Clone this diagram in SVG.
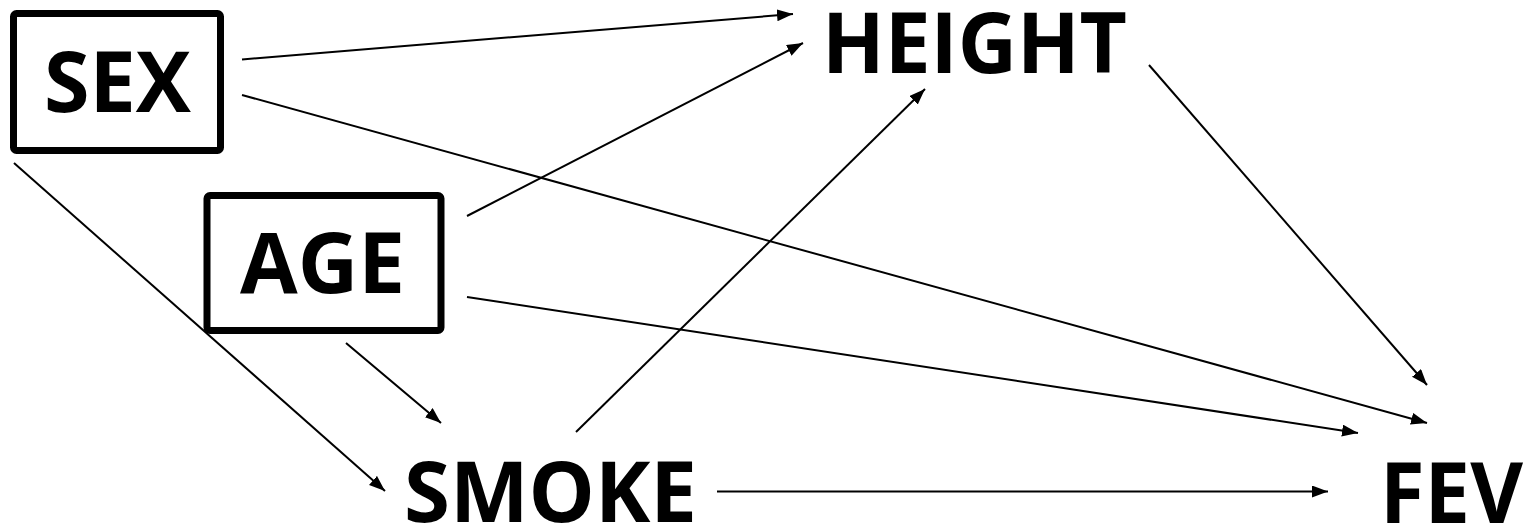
<svg xmlns="http://www.w3.org/2000/svg" width="1524" height="526" viewBox="0 0 1524 526">
  <style>
    .box { fill: none; stroke: #000; stroke-width: 7; }
    .lbl { font-family: "Open Sans", "Liberation Sans", sans-serif; font-weight: bold; font-size: 85px; fill: #000; }
    .edge { stroke: #000; stroke-width: 2; fill: none; marker-end: url(#ah); }
  </style>
  <defs>
    <marker id="ah" markerUnits="userSpaceOnUse" markerWidth="17" markerHeight="13" refX="16" refY="6" orient="auto">
      <path d="M0,0 L16,6 L0,12 z" fill="#000"/>
    </marker>
  </defs>
  <rect width="1524" height="526" fill="#fff"/>
  <g id="connectors">
    <line class="edge" x1="242" y1="59.5" x2="793" y2="14"/>
    <line class="edge" x1="242" y1="95" x2="1427" y2="423"/>
    <line class="edge" x1="14" y1="163" x2="385" y2="491"/>
    <line class="edge" x1="467" y1="216" x2="803" y2="43"/>
    <line class="edge" x1="467" y1="297" x2="1358" y2="433"/>
    <line class="edge" x1="346" y1="343" x2="441" y2="423"/>
    <line class="edge" x1="576" y1="432" x2="925" y2="89"/>
    <line class="edge" x1="1149" y1="65" x2="1427" y2="385"/>
    <line class="edge" x1="717" y1="491.5" x2="1328" y2="491.5"/>
  </g>
  <g id="sex">
    <rect class="box" x="13.5" y="13.5" width="207" height="137" rx="3"/>
    <text class="lbl" x="44" y="112" textLength="147" lengthAdjust="spacingAndGlyphs">SEX</text>
  </g>
  <g id="age">
    <rect class="box" x="207" y="195.5" width="234" height="135" rx="3"/>
    <text class="lbl" x="240" y="293" textLength="165" lengthAdjust="spacingAndGlyphs">AGE</text>
  </g>
  <g id="height">
    <text class="lbl" x="822" y="73" textLength="305" lengthAdjust="spacingAndGlyphs">HEIGHT</text>
  </g>
  <g id="smoke">
    <text class="lbl" x="404" y="522" textLength="293" lengthAdjust="spacingAndGlyphs">SMOKE</text>
  </g>
  <g id="fev">
    <text class="lbl" x="1380" y="523" textLength="143" lengthAdjust="spacingAndGlyphs">FEV</text>
  </g>
</svg>
